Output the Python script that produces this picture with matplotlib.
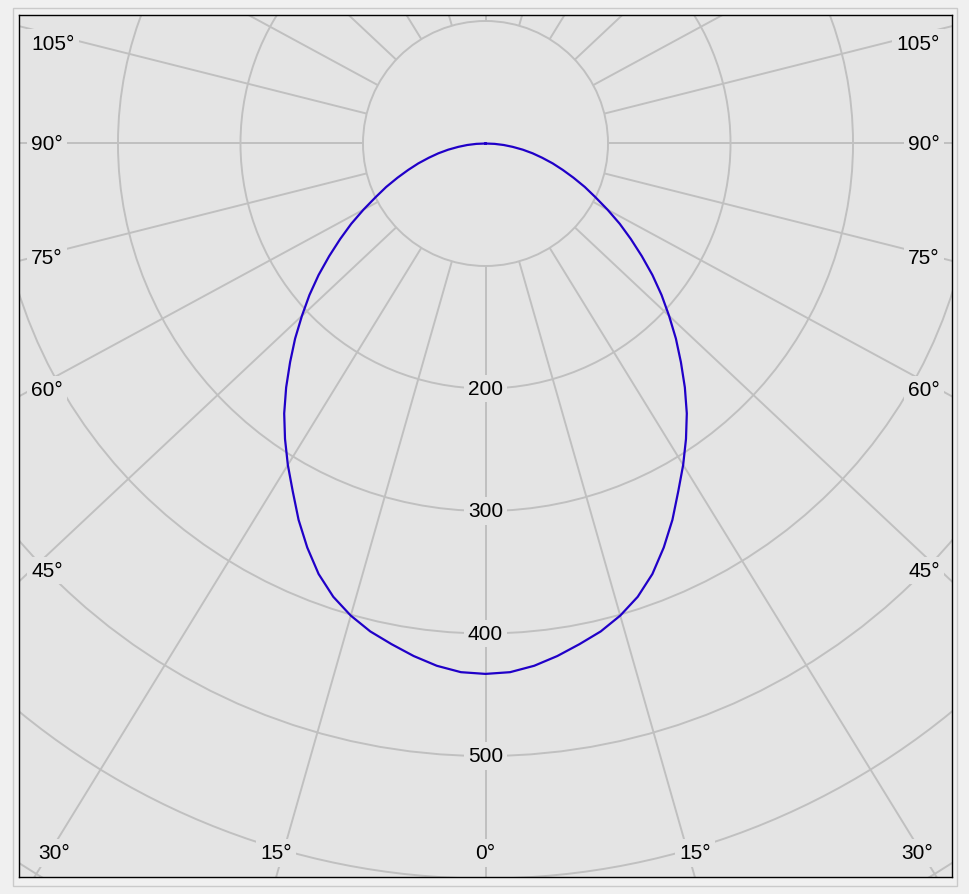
import numpy as np
import matplotlib.pyplot as plt
from matplotlib.patches import Circle, Rectangle

# luminous intensity read along the gamma angle (same on C0 and C180 halves)
gamma = [0, 2.5, 5, 7.5, 10, 12.5, 15, 17.5, 20, 22.5, 25, 27.5, 30, 32.5, 35,
         37.5, 40, 42.5, 45, 47.5, 50, 52.5, 55, 57.5, 60, 62.5, 65, 67.5, 70,
         72.5, 75, 77.5, 80, 82.5, 85, 87.5, 90]
intensity = [433, 432, 428, 422, 415, 408, 399, 388, 374, 357, 339, 320, 303, 286, 269,
             251, 233, 216, 199, 183, 167, 151, 136, 122, 108, 95, 84, 73, 63,
             54, 45, 37, 29, 21, 14, 7, 0]

ring_values = [100, 200, 300, 400, 500, 600, 700, 800]
ring_labels = [200, 300, 400, 500]
spoke_angles = list(range(-180, 181, 15))
angle_labels = [0, 15, 30, 45, 60, 75, 90, 105]

panel = "#e4e4e4"
grid = "#c0c0c0"
curve = "#2000c8"
K = 1.065  # horizontal stretch of the angular scale in the original diagram
xmin, xmax = -380.8, 380.8
ymin, ymax = -598.8, 104.9


def to_xy(theta, r):
    t = np.radians(theta)
    return K * np.asarray(r) * np.sin(t), -np.asarray(r) * np.cos(t)


def direction(theta):
    dx, dy = to_xy(theta, 1.0)
    n = np.hypot(dx, dy)
    return dx / n, dy / n


fig = plt.figure(figsize=(9.69, 8.95), dpi=100)
fig.patch.set_facecolor("#f0f0f0")
fig.patches.append(Rectangle((12.5 / 969, 8 / 895), 944.5 / 969, 878 / 895,
                             transform=fig.transFigure, fill=False,
                             ec="#cacaca", lw=1))

ax = fig.add_axes([19 / 969, 17 / 895, 933 / 969, 862 / 895])
ax.set_facecolor(panel)
ax.set_xlim(xmin, xmax)
ax.set_ylim(ymin, ymax)
ax.set_xticks([])
ax.set_yticks([])
for s in ax.spines.values():
    s.set_color("black")
    s.set_linewidth(1.0)

# rings
for r in ring_values:
    ax.add_patch(Circle((0, 0), r, fill=False, ec=grid, lw=1.4, zorder=1))

# spokes from the inner ring outwards
for a in spoke_angles:
    ux, uy = direction(a)
    ax.plot([100 * ux, 1000 * ux], [100 * uy, 1000 * uy], color=grid, lw=1.4,
            zorder=1, solid_capstyle="butt")

font = dict(family="Liberation Sans", fontsize=15, color="black", zorder=4)
box = dict(boxstyle="square,pad=0.2", fc=panel, ec="none")

for r in ring_labels:
    ax.text(0, -r, str(r), ha="center", va="center", bbox=box, **font)

# angle labels where the spokes leave the frame
for a in angle_labels:
    for sign in ([1] if a == 0 else [-1, 1]):
        ux, uy = direction(sign * a)
        if uy < 0 and abs(ux / uy * ymin) <= xmax:
            x = ux / uy * ymin
            x = max(min(x, 352), -352)
            ax.text(x, ymin + 19.6, f"{a}°", ha="center", va="center",
                    bbox=box, **font)
        else:
            x = 371 * sign
            y = min(uy / abs(ux) * 371, 82)
            ax.text(x, y, f"{a}°", ha="right" if sign > 0 else "left",
                    va="center", bbox=box, **font)

# intensity curve, C180 half on the left, C0 half on the right
theta_full = [-g for g in gamma[::-1]] + gamma[1:]
i_full = intensity[::-1] + intensity[1:]
cx, cy = to_xy(np.array(theta_full), np.array(i_full))
ax.plot(cx, cy, color=curve, lw=1.6, zorder=3)

fig.savefig("out.png", dpi=100, facecolor=fig.get_facecolor())
